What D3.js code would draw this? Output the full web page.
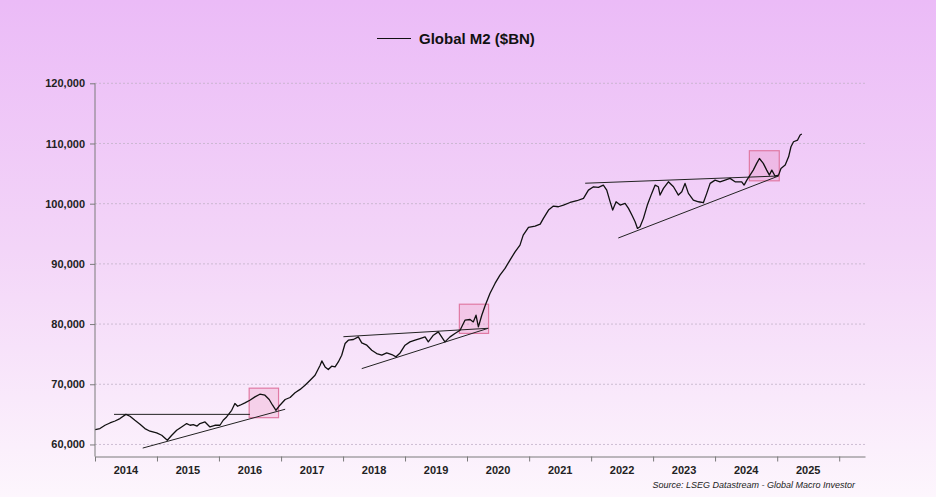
<!DOCTYPE html>
<html>
<head>
<meta charset="utf-8">
<script src="https://cdn.jsdelivr.net/npm/d3@7"></script>
<style>
  html, body { margin: 0; padding: 0; }
  body { width: 936px; height: 497px; overflow: hidden; }
  text { font-family: "Liberation Sans", Arial, sans-serif; }
</style>
</head>
<body>
<div id="chart"></div>
<script>
// Global M2 ($BN)
const dates = [
  "2014-01-03","2014-01-30","2014-03-01","2014-03-30","2014-04-29","2014-05-28","2014-07-02","2014-07-26",
  "2014-08-24","2014-09-23","2014-10-22","2014-11-21","2014-12-30","2015-01-29","2015-03-03","2015-03-29",
  "2015-04-27","2015-05-26","2015-06-25","2015-07-15","2015-08-03","2015-08-25","2015-09-11","2015-10-11",
  "2015-11-09","2015-12-08",
  "2016-01-07","2016-01-26","2016-02-15","2016-03-16","2016-04-04","2016-04-20","2016-05-04","2016-06-02","2016-07-01",
  "2016-07-31","2016-08-29","2016-09-28","2016-10-23","2016-11-12","2016-12-02","2016-12-25","2017-01-25",
  "2017-02-23","2017-03-24","2017-04-23","2017-05-22","2017-06-21","2017-07-20","2017-08-19","2017-08-29",
  "2017-09-17","2017-10-06","2017-10-26","2017-11-15","2017-12-04","2017-12-24","2018-01-13","2018-02-01",
  "2018-03-03","2018-04-01","2018-04-21","2018-05-21","2018-06-19","2018-07-18","2018-08-17","2018-09-15",
  "2018-10-15","2018-11-09","2018-12-03","2019-01-01","2019-01-30","2019-03-01","2019-03-30","2019-04-29",
  "2019-05-18","2019-06-17","2019-07-16","2019-08-24","2019-09-23","2019-10-22","2019-11-21","2019-12-20",
  "2020-01-19","2020-02-07","2020-02-23","2020-03-08","2020-03-28","2020-04-16","2020-05-15","2020-06-14",
  "2020-07-13","2020-08-12","2020-09-10","2020-10-10","2020-11-08","2020-11-27","2020-12-28","2021-02-05",
  "2021-03-07","2021-03-26","2021-04-25","2021-05-24","2021-06-22","2021-07-22","2021-08-30","2021-10-09",
  "2021-11-17","2021-12-16","2022-01-15","2022-02-13","2022-03-14","2022-04-03","2022-04-23","2022-05-08",
  "2022-05-28","2022-06-21","2022-07-20","2022-08-09","2022-08-29","2022-09-17","2022-10-01","2022-10-16",
  "2022-11-05","2022-11-28","2022-12-24","2023-01-13","2023-02-01","2023-02-11","2023-03-03","2023-04-01",
  "2023-05-01","2023-05-30","2023-06-19","2023-07-08","2023-07-28","2023-08-26","2023-09-25","2023-10-24",
  "2023-11-13","2023-12-03","2024-01-01","2024-01-30","2024-02-29","2024-03-29","2024-04-28","2024-06-06",
  "2024-06-20","2024-07-06","2024-07-25","2024-08-13","2024-09-02","2024-09-18","2024-10-11","2024-10-31",
  "2024-11-16","2024-11-30","2024-12-19","2025-01-09","2025-01-23","2025-02-17","2025-03-09","2025-03-23",
  "2025-04-07","2025-05-01","2025-05-16","2025-05-26"
];
const m2 = [
  62480, 62640, 63190, 63570, 63900, 64300, 65000, 64690,
  64020, 63360, 62640, 62200, 61920, 61530, 60700, 61530,
  62360, 62910, 63470, 63190, 63300, 63050, 63470, 63740,
  62910, 63190,
  63190, 64020, 64570, 65680, 66800, 66350, 66520, 66900, 67350,
  67900, 68350, 68180, 67470, 66520, 65680, 66520, 67470,
  67800, 68600, 69150, 69840, 70670, 71500, 73170, 73880,
  72880, 72450, 73000, 72880, 73710, 74830, 76770, 77320,
  77440, 77870, 76870, 76490, 75660, 75100, 74830, 75210,
  74940, 74560, 75210, 76490, 77040, 77320, 77600, 77870,
  77040, 78150, 78700, 77040, 77870, 78430, 78980, 80640,
  80760, 80360, 81470, 79540, 81470, 83000, 85080, 86750,
  88130, 89240, 90620, 92000, 93120, 94780, 96060, 96280,
  96610, 97560, 98940, 99600, 99490, 99770, 100200, 100490,
  100880, 102260, 102810, 102700, 103090, 102260, 100300, 98940,
  100320, 99770, 100050, 99220, 98110, 97000, 95890, 96170,
  97560, 99770, 101710, 103090, 102810, 101430, 102540, 103640,
  102810, 101430, 101990, 103370, 101710, 100600, 100320, 100160,
  101710, 103370, 103920, 103640, 103920, 104200, 103640, 103640,
  103090, 103920, 104750, 105580, 106690, 107510, 106690, 105580,
  104750, 105580, 104590, 104750, 105860, 106410, 107790, 109460,
  110290, 110570, 111400, 111570
];

// hand-drawn annotations: [start date, start value, end date, end value]
const trendLines = [
  ["2014-04-23", 65000, "2016-07-01", 65000],
  ["2014-10-09", 59400, "2017-01-25", 65850],
  ["2018-01-03", 77900, "2020-05-05", 79300],
  ["2018-04-21", 72600, "2020-05-05", 79300],
  ["2021-11-27", 103400, "2025-01-09", 104600],
  ["2022-06-10", 94300, "2025-01-09", 104600]
];
// highlight boxes: [from, to, low, high]
const boxes = [
  ["2016-06-27", "2016-12-17", 64450, 69350],
  ["2019-11-17", "2020-05-07", 78450, 83300],
  ["2024-07-21", "2025-01-13", 103800, 108800]
];

const yTicks = [60000, 70000, 80000, 90000, 100000, 110000, 120000];
const years = [2014, 2015, 2016, 2017, 2018, 2019, 2020, 2021, 2022, 2023, 2024, 2025];

const parse = d3.timeParse("%Y-%m-%d");
const data = dates.map((d, i) => ({ date: parse(d), value: m2[i] }));

const width = 936;
const height = 497;
const margin = { left: 95, right: 71, top: 83.3, bottom: 40.5 };

const svg = d3.select("#chart")
  .append("svg")
  .attr("width", width)
  .attr("height", height);

// background wash, lilac at the top fading to white
const grad = svg.append("defs").append("linearGradient")
  .attr("id", "bg")
  .attr("x1", 0).attr("y1", 0).attr("x2", 0).attr("y2", 1);
grad.append("stop").attr("offset", "0%").attr("stop-color", "#ebbbf7");
grad.append("stop").attr("offset", "50%").attr("stop-color", "#f3d5f8");
grad.append("stop").attr("offset", "100%").attr("stop-color", "#fdf6fd");

svg.append("rect")
  .attr("width", width)
  .attr("height", height)
  .attr("fill", "url(#bg)");

const x = d3.scaleTime()
  .domain([new Date(2014, 0, 1), new Date(2026, 5, 2)])
  .range([margin.left, width - margin.right]);

const y = d3.scaleLinear()
  .domain([58000, 120000])
  .range([height - margin.bottom, margin.top]);

// gridlines
svg.append("g")
  .selectAll("line")
  .data(yTicks)
  .join("line")
  .attr("x1", margin.left)
  .attr("x2", width - margin.right)
  .attr("y1", d => y(d))
  .attr("y2", d => y(d))
  .attr("stroke", "#c2b2c8")
  .attr("stroke-width", 0.8)
  .attr("stroke-dasharray", "2,2");

// y axis
const yAxis = svg.append("g")
  .attr("transform", `translate(${margin.left},0)`)
  .call(d3.axisLeft(y)
    .tickValues(yTicks)
    .tickSize(5)
    .tickSizeOuter(0)
    .tickFormat(d3.format(",")));
yAxis.select(".domain").attr("stroke", "#7a7a7a").attr("d", `M0,${y(120000)}V${y.range()[0]}`);
yAxis.selectAll(".tick line").attr("stroke", "#7a7a7a");
yAxis.selectAll(".tick text")
  .attr("x", -10)
  .attr("font-family", "Liberation Sans, Arial, sans-serif")
  .attr("font-size", 11)
  .attr("font-weight", "bold")
  .attr("fill", "#222");

// x axis: ticks on year boundaries, labels centred in each year
const xAxis = svg.append("g")
  .attr("transform", `translate(0,${y.range()[0]})`)
  .call(d3.axisBottom(x)
    .tickValues(d3.range(2014, 2027).map(yr => new Date(yr, 0, 1)))
    .tickSize(5)
    .tickSizeOuter(0)
    .tickFormat(""));
xAxis.select(".domain").attr("stroke", "#7a7a7a");
xAxis.selectAll(".tick line").attr("stroke", "#7a7a7a");

svg.append("g")
  .selectAll("text")
  .data(years)
  .join("text")
  .attr("x", d => (x(new Date(d, 0, 1)) + x(new Date(d + 1, 0, 1))) / 2)
  .attr("y", y.range()[0] + 17)
  .attr("text-anchor", "middle")
  .attr("font-size", 11)
  .attr("font-weight", "bold")
  .attr("fill", "#222")
  .text(d => d);

// highlight boxes
svg.append("g")
  .selectAll("rect")
  .data(boxes)
  .join("rect")
  .attr("x", d => x(parse(d[0])))
  .attr("width", d => x(parse(d[1])) - x(parse(d[0])))
  .attr("y", d => y(d[3]))
  .attr("height", d => y(d[2]) - y(d[3]))
  .attr("fill", "rgba(232, 120, 170, 0.22)")
  .attr("stroke", "#e07aa4")
  .attr("stroke-width", 1.2);

// trend lines
svg.append("g")
  .selectAll("line")
  .data(trendLines)
  .join("line")
  .attr("x1", d => x(parse(d[0])))
  .attr("y1", d => y(d[1]))
  .attr("x2", d => x(parse(d[2])))
  .attr("y2", d => y(d[3]))
  .attr("stroke", "#222")
  .attr("stroke-width", 1);

// the series
const line = d3.line()
  .x(d => x(d.date))
  .y(d => y(d.value));

svg.append("path")
  .datum(data)
  .attr("d", line)
  .attr("fill", "none")
  .attr("stroke", "#111")
  .attr("stroke-width", 1.3)
  .attr("stroke-linejoin", "round");

// legend / title
svg.append("line")
  .attr("x1", 377).attr("x2", 411)
  .attr("y1", 38.5).attr("y2", 38.5)
  .attr("stroke", "#111")
  .attr("stroke-width", 1.2);
svg.append("text")
  .attr("x", 419)
  .attr("y", 44)
  .attr("font-size", 15)
  .attr("font-weight", "bold")
  .attr("fill", "#111")
  .text("Global M2 ($BN)");

// source note
svg.append("text")
  .attr("x", 855)
  .attr("y", 488)
  .attr("text-anchor", "end")
  .attr("font-size", 9)
  .attr("font-style", "italic")
  .attr("fill", "#222")
  .text("Source: LSEG Datastream - Global Macro Investor");
</script>
</body>
</html>
